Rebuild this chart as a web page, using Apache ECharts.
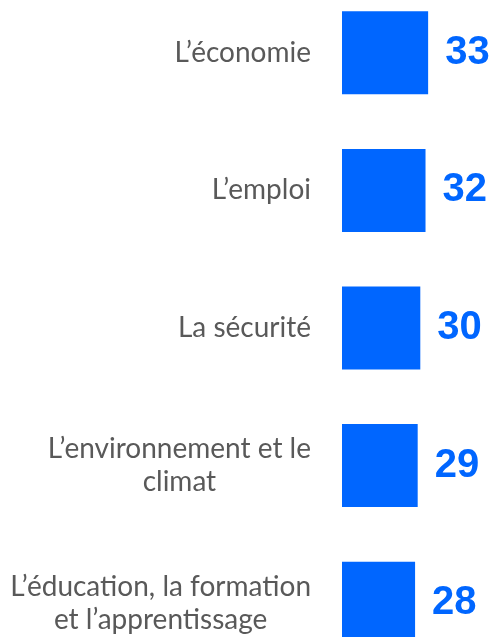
<!DOCTYPE html>
<html>
<head>
<meta charset="utf-8">
<script src="https://cdn.jsdelivr.net/npm/echarts@6/dist/echarts.min.js"></script>
<style>
  html, body { margin: 0; padding: 0; background: #fff; }
  #chart { width: 495px; height: 637px; }
</style>
</head>
<body>
<div id="chart"></div>
<script>
  // categories (top to bottom) and scores
  var categories = [
    'L\u2019économie',
    'L\u2019emploi',
    'La sécurité',
    'L\u2019environnement et le\nclimat',
    'L\u2019éducation, la formation\net l\u2019apprentissage'
  ];
  var values = [33, 32, 30, 29, 28];

  var chart = echarts.init(document.getElementById('chart'));
  chart.setOption({
    animation: false,
    grid: { left: 342, top: -16, width: 261, height: 688, outerBoundsMode: 'none', containLabel: false },
    xAxis: {
      type: 'value', min: 0, max: 100,
      show: false
    },
    yAxis: {
      type: 'category',
      inverse: true,
      data: categories,
      axisLine: { show: false },
      axisTick: { show: false },
      splitLine: { show: false },
      axisLabel: {
        margin: 31,
        color: '#595959',
        fontFamily: 'Lato',
        fontSize: 28,
        lineHeight: 33,
        formatter: function (v) {
          return v.split('\n').map(function (s) { return '{a|' + s + '}'; }).join('\n');
        },
        rich: {
          a: { align: 'center', color: '#595959', fontFamily: 'Lato', fontSize: 28, lineHeight: 33 }
        }
      }
    },
    series: [{
      type: 'bar',
      data: values,
      barWidth: 83,
      itemStyle: { color: '#0066FF' },
      label: {
        show: true,
        position: 'right',
        distance: 17,
        color: '#0066FF',
        fontFamily: 'Liberation Sans',
        fontWeight: 'bold',
        fontSize: 40
      }
    }]
  });
</script>
</body>
</html>
